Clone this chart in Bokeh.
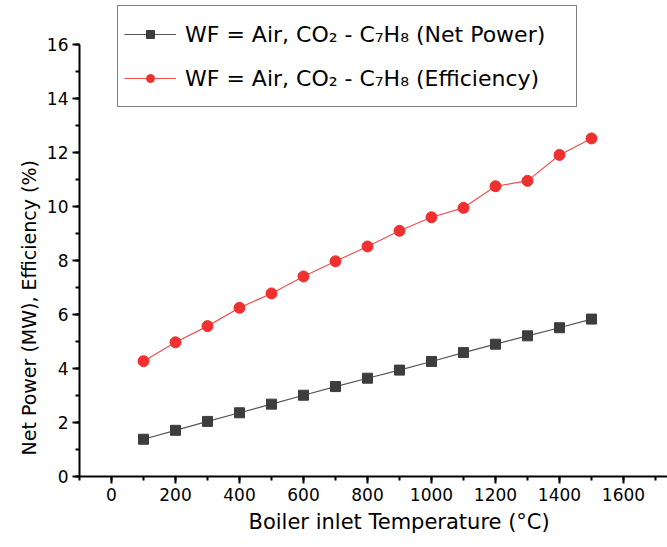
from bokeh.plotting import figure
from bokeh.models import Range1d, SingleIntervalTicker, Legend, LegendItem, Title
from bokeh.embed import file_html
from bokeh.resources import INLINE

temperature = [100, 200, 300, 400, 500, 600, 700, 800, 900, 1000, 1100, 1200, 1300, 1400, 1500]
net_power = [1.38, 1.71, 2.04, 2.36, 2.68, 3.01, 3.33, 3.64, 3.94, 4.26, 4.59, 4.90, 5.21, 5.51, 5.83]
efficiency = [4.27, 4.97, 5.57, 6.25, 6.78, 7.41, 7.97, 8.52, 9.10, 9.60, 9.95, 10.75, 10.95, 11.91, 12.52]

label_power = "WF = Air, CO\u2082 - C\u2087H\u2088 (Net Power)"
label_eff = "WF = Air, CO\u2082 - C\u2087H\u2088 (Efficiency)"
x_title = "Boiler inlet Temperature (\u00b0C)"
y_title = "Net Power (MW), Efficiency (%)"

FONT = "DejaVu Sans"

p = figure(width=667, height=547, output_backend="svg", toolbar_location=None,
           x_range=Range1d(-100, 1737.5), y_range=Range1d(0, 17.444),
           min_border_left=79, min_border_right=0, min_border_top=5, min_border_bottom=71)
p.outline_line_color = None
p.xgrid.visible = False
p.ygrid.visible = False

l1 = p.line(temperature, net_power, line_color="#555555", line_width=1.2)
m1 = p.scatter(temperature, net_power, marker="square", size=10, fill_color="#3d3d3d", line_color="#3d3d3d")
l2 = p.line(temperature, efficiency, line_color="#f05050", line_width=1.2)
m2 = p.scatter(temperature, efficiency, marker="circle", size=11, fill_color="#ee3030", line_color="#ee3030")

for ax in (p.xaxis[0], p.yaxis[0]):
    ax.axis_line_width = 2
    ax.axis_line_color = "black"
    ax.major_tick_line_width = 2
    ax.minor_tick_line_width = 2
    ax.major_tick_line_color = "black"
    ax.minor_tick_line_color = "black"
    ax.major_tick_out = 7
    ax.major_tick_in = 0
    ax.minor_tick_out = 4
    ax.minor_tick_in = 0
    ax.major_label_text_font = FONT
    ax.major_label_text_font_size = "17px"
    ax.major_label_text_color = "black"

p.xaxis[0].ticker = SingleIntervalTicker(interval=200, num_minor_ticks=2)
p.yaxis[0].ticker = SingleIntervalTicker(interval=2, num_minor_ticks=2)
p.yaxis[0].bounds = (0, 16)
p.xaxis[0].major_label_standoff = 4
p.yaxis[0].major_label_standoff = 4

xt = Title(text=x_title, align="left", offset=169, text_font=FONT, text_font_size="21px",
           text_font_style="normal", text_color="black", standoff=8)
p.add_layout(xt, "below")
yt = Title(text=y_title, align="left", offset=21, text_font=FONT, text_font_size="19px",
           text_font_style="normal", text_color="black", standoff=7)
p.add_layout(yt, "left")

legend = Legend(items=[LegendItem(label=label_power, renderers=[l1, m1]),
                       LegendItem(label=label_eff, renderers=[l2, m2])],
                location=(38, 369))
legend.label_text_font = FONT
legend.label_text_font_size = "22px"
legend.label_text_color = "black"
legend.glyph_width = 52
legend.glyph_height = 20
legend.label_height = 44
legend.label_width = 385
legend.label_standoff = 9
legend.spacing = 0
legend.padding = 6
legend.margin = 0
legend.border_line_color = "black"
legend.border_line_width = 1.5
legend.background_fill_alpha = 1
p.add_layout(legend, "center")

open("out.html", "w").write(file_html(p, INLINE))
